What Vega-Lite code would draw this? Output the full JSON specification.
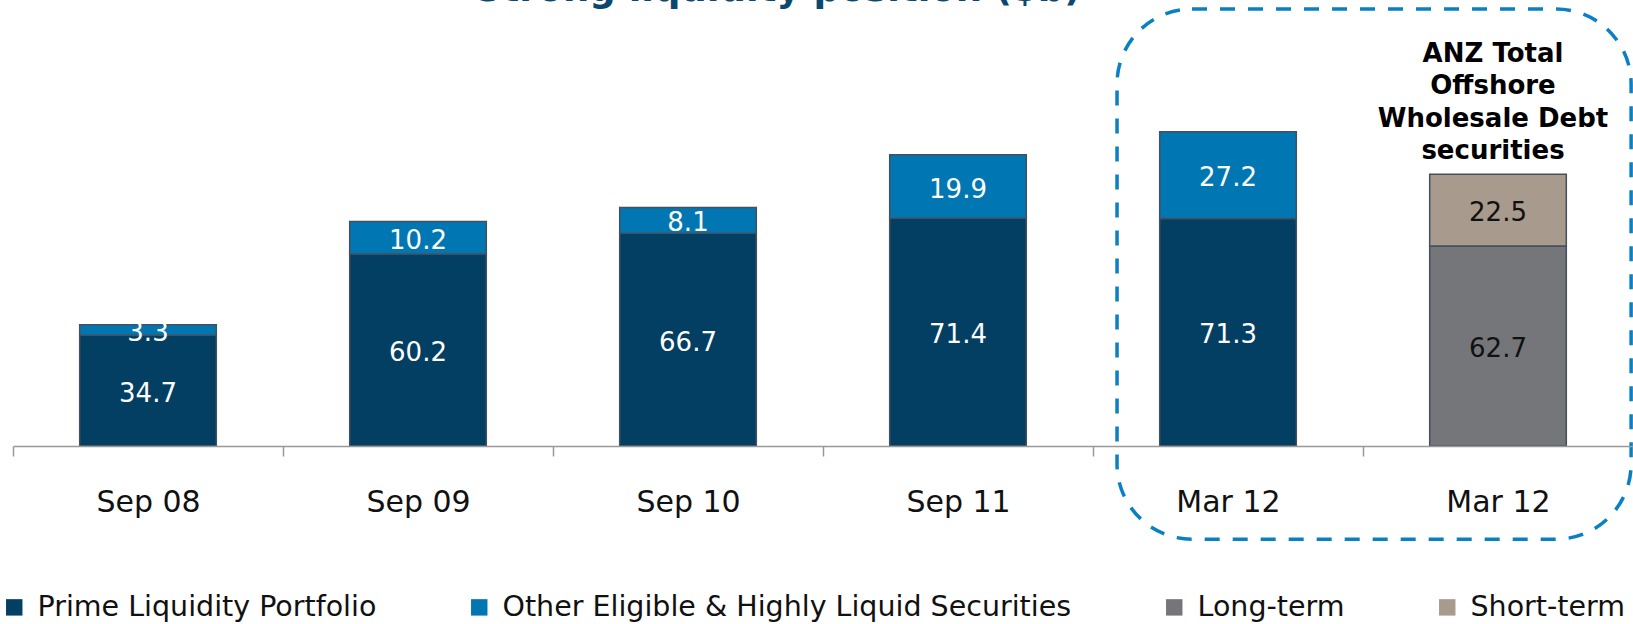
{
  "$schema": "https://vega.github.io/schema/vega-lite/v6.json",
  "autosize": {"type": "none"},
  "width": 1620,
  "height": 430,
  "padding": {"left": 13, "top": 16, "right": 0, "bottom": 178},
  "title": {
    "text": "Strong liquidity position ($b)",
    "font": "DejaVu Sans",
    "fontSize": 37,
    "fontWeight": "bold",
    "color": "#0b4870",
    "anchor": "middle",
    "frame": "group",
    "offset": -2,
    "dx": -45
  },
  "datasets": {
    "bars": [
      {"cat": "Sep 08", "series": "Prime Liquidity Portfolio", "level": 1, "value": 34.7},
      {"cat": "Sep 08", "series": "Other Eligible & Highly Liquid Securities", "level": 2, "value": 3.3},
      {"cat": "Sep 09", "series": "Prime Liquidity Portfolio", "level": 1, "value": 60.2},
      {"cat": "Sep 09", "series": "Other Eligible & Highly Liquid Securities", "level": 2, "value": 10.2},
      {"cat": "Sep 10", "series": "Prime Liquidity Portfolio", "level": 1, "value": 66.7},
      {"cat": "Sep 10", "series": "Other Eligible & Highly Liquid Securities", "level": 2, "value": 8.1},
      {"cat": "Sep 11", "series": "Prime Liquidity Portfolio", "level": 1, "value": 71.4},
      {"cat": "Sep 11", "series": "Other Eligible & Highly Liquid Securities", "level": 2, "value": 19.9},
      {"cat": "Mar 12", "series": "Prime Liquidity Portfolio", "level": 1, "value": 71.3},
      {"cat": "Mar 12", "series": "Other Eligible & Highly Liquid Securities", "level": 2, "value": 27.2},
      {"cat": "Mar 12b", "series": "Long-term", "level": 1, "value": 62.7},
      {"cat": "Mar 12b", "series": "Short-term", "level": 2, "value": 22.5}
    ],
    "note": [
      {"cat": "Mar 12b", "y": 120.4, "text": ["ANZ Total", "Offshore", "Wholesale Debt", "securities"]}
    ],
    "box": [
      {"from": "Mar 12", "to": "Mar 12b", "top": 137, "bottom": -29.2}
    ]
  },
  "layer": [
    {
      "data": {"name": "box"},
      "mark": {"type": "rect", "fill": "transparent", "stroke": "#0a80c4", "strokeWidth": 3.5, "strokeDash": [15, 13], "cornerRadius": 75},
      "encoding": {
        "x": {"field": "from", "type": "nominal", "bandPosition": 0.089, "title": null,
              "scale": {"domain": ["Sep 08", "Sep 09", "Sep 10", "Sep 11", "Mar 12", "Mar 12b"], "paddingInner": 0, "paddingOuter": 0}},
        "x2": {"field": "to", "bandPosition": 0.993},
        "y": {"field": "top", "type": "quantitative", "axis": null, "scale": {"domain": [0, 134.8], "nice": false}},
        "y2": {"field": "bottom"}
      }
    },
    {
      "data": {"name": "bars"},
      "transform": [
        {"stack": "value", "groupby": ["cat"], "sort": [{"field": "level", "order": "ascending"}], "as": ["v0", "v1"]}
      ],
      "mark": {"type": "bar", "width": {"band": 0.506}, "stroke": "#44505c", "strokeWidth": 1.5},
      "encoding": {
        "x": {"field": "cat", "type": "nominal", "title": null},
        "y": {"field": "v0", "type": "quantitative", "axis": null},
        "y2": {"field": "v1"},
        "color": {
          "field": "series",
          "type": "nominal",
          "scale": {
            "domain": ["Prime Liquidity Portfolio", "Other Eligible & Highly Liquid Securities", "Long-term", "Short-term"],
            "range": ["#023f62", "#0077b3", "#75767a", "#a89a8c"]
          },
          "legend": {
            "orient": "none",
            "legendX": -13,
            "legendY": 577,
            "direction": "horizontal",
            "columns": 4,
            "title": null,
            "symbolType": "square",
            "symbolSize": 270,
            "symbolStrokeWidth": 0,
            "labelFont": "DejaVu Sans",
            "labelFontSize": 28.5,
            "labelColor": "#111111",
            "labelLimit": 1000,
            "labelOffset": 9,
            "columnPadding": 88
          }
        }
      }
    },
    {
      "data": {"name": "bars"},
      "transform": [
        {"stack": "value", "groupby": ["cat"], "sort": [{"field": "level", "order": "ascending"}], "as": ["v0", "v1"]},
        {"fold": ["v0", "v1"], "as": ["k", "pos"]}
      ],
      "mark": {"type": "text", "font": "DejaVu Sans", "fontSize": 26, "baseline": "middle", "align": "center", "dy": 3},
      "encoding": {
        "x": {"field": "cat", "type": "nominal", "title": null},
        "y": {"aggregate": "mean", "field": "pos", "type": "quantitative", "axis": null},
        "detail": {"field": "series", "type": "nominal"},
        "text": {"field": "value", "type": "quantitative", "format": ".1f"},
        "color": {
          "condition": {"test": "datum.series === 'Long-term' || datum.series === 'Short-term'", "value": "#111111"},
          "value": "#ffffff"
        }
      }
    },
    {
      "data": {"name": "note"},
      "mark": {"type": "text", "font": "DejaVu Sans", "fontSize": 26, "fontWeight": "bold", "color": "#000000", "align": "center", "baseline": "alphabetic", "lineHeight": 32.3, "dx": -5},
      "encoding": {
        "x": {"field": "cat", "type": "nominal", "title": null},
        "y": {"field": "y", "type": "quantitative", "axis": null},
        "text": {"field": "text"}
      }
    }
  ],
  "config": {
    "view": {"stroke": null},
    "axisX": {
      "labelAngle": 0,
      "labelFont": "DejaVu Sans",
      "labelFontSize": 30,
      "labelColor": "#111111",
      "labelPadding": 31,
      "labelExpr": "datum.label === 'Mar 12b' ? 'Mar 12' : datum.label",
      "domainColor": "#999999",
      "domainWidth": 1.5,
      "tickColor": "#999999",
      "tickWidth": 1.5,
      "tickSize": 10,
      "tickBand": "extent",
      "title": null,
      "grid": false
    }
  }
}
